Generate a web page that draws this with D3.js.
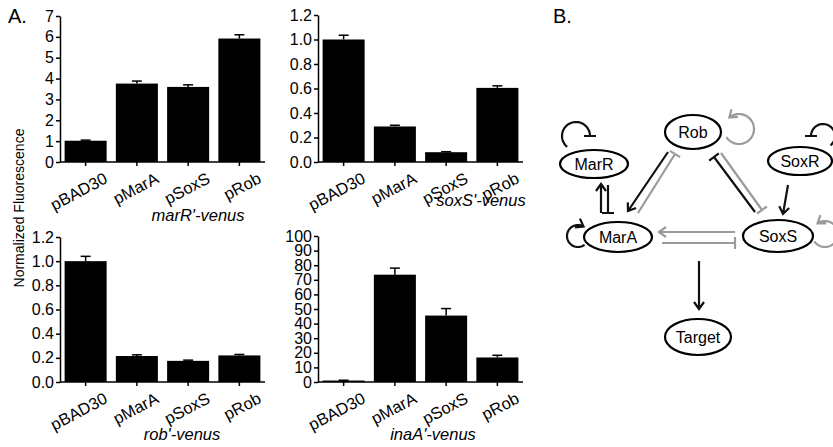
<!DOCTYPE html>
<html>
<head>
<meta charset="utf-8">
<script src="https://cdn.jsdelivr.net/npm/d3@7"></script>
<style>
  body { margin: 0; background: #fff; }
  #wrap { position: relative; width: 833px; height: 447px; }
  svg { display: block; font-family: "Liberation Sans", Arial, sans-serif; }
  .axis path, .axis line { stroke: #000; stroke-width: 1.5; }
  .axis text { font-size: 16px; fill: #000; }
</style>
</head>
<body>
<div id="wrap"><svg id="fig" width="833" height="447"></svg></div>
<script>
// Chart data
const categories = ["pBAD30", "pMarA", "pSoxS", "pRob"];

const marRValues = [1.02, 3.76, 3.6, 5.92];
const marRErrors = [0.03, 0.12, 0.1, 0.18];
const soxSValues = [1.0, 0.29, 0.08, 0.605];
const soxSErrors = [0.035, 0.01, 0.004, 0.017];
const robValues = [1.0, 0.215, 0.175, 0.22];
const robErrors = [0.04, 0.01, 0.006, 0.008];
const inaAValues = [1.0, 73.5, 45.5, 16.8];
const inaAErrors = [0.2, 4.5, 4.8, 1.5];

const marRTicks = [0, 1, 2, 3, 4, 5, 6, 7];
const fracTicks = [0, 0.2, 0.4, 0.6, 0.8, 1.0, 1.2];
const inaATicks = [0, 10, 20, 30, 40, 50, 60, 70, 80, 90, 100];

// Network diagram
const nodes = [
  { id: "Rob", cx: 693, cy: 132, rx: 28, ry: 17 },
  { id: "MarR", cx: 594, cy: 164, rx: 34, ry: 14 },
  { id: "SoxR", cx: 800, cy: 161, rx: 32, ry: 14 },
  { id: "MarA", cx: 618, cy: 237, rx: 34, ry: 15 },
  { id: "SoxS", cx: 778, cy: 236, rx: 35, ry: 16 },
  { id: "Target", cx: 698, cy: 337, rx: 33, ry: 18 }
];
const edges = [
  { x1: 668, y1: 152, x2: 628, y2: 211, color: "black", head: "arrow" },
  { x1: 638, y1: 213, x2: 675, y2: 154, color: "gray", head: "tee" },
  { x1: 755, y1: 212, x2: 714, y2: 157, color: "black", head: "tee" },
  { x1: 721, y1: 153, x2: 762, y2: 210, color: "gray", head: "tee" },
  { x1: 788, y1: 185, x2: 783, y2: 214, color: "black", head: "arrow" },
  { x1: 601, y1: 213, x2: 601, y2: 184, color: "black", head: "arrow" },
  { x1: 608, y1: 185, x2: 608, y2: 213, color: "black", head: "tee" },
  { x1: 735, y1: 232, x2: 659, y2: 232, color: "gray", head: "arrow" },
  { x1: 662, y1: 243, x2: 735, y2: 243, color: "gray", head: "tee" },
  { x1: 699, y1: 261, x2: 699, y2: 309, color: "black", head: "arrow" }
];
// self loops: circle centre, radius, start/end angle in degrees (screen coords)
const loops = [
  { cx: 576, cy: 136, r: 14, a0: 129, a1: 360, color: "black", head: "tee" },
  { cx: 823, cy: 136, r: 12, a0: 51, a1: -180, color: "black", head: "tee" },
  { cx: 578, cy: 236, r: 11, a0: 53, a1: 300, color: "black", head: "arrow" },
  { cx: 739, cy: 129, r: 15, a0: 147, a1: -130, color: "gray", head: "arrow" },
  { cx: 825, cy: 234, r: 13, a0: 145, a1: -125, color: "gray", head: "arrow" }
];

const colors = { black: "#111", gray: "#9b9b9b" };

const svg = d3.select("#fig");
const defs = svg.append("defs");

// text laid along a straight guide path (no transform on the text itself)
function pathText(parent, id, x1, y1, x2, y2, str, size, anchor) {
  defs.append("path").attr("id", id).attr("d", `M${x1},${y1}L${x2},${y2}`);
  parent.append("text")
    .attr("font-size", size)
    .append("textPath")
    .attr("href", "#" + id)
    .attr("startOffset", anchor === "end" ? "100%" : "50%")
    .attr("text-anchor", anchor)
    .text(str);
}

// Panels
const panels = [
  { values: marRValues, errors: marRErrors, max: 7, ticks: marRTicks, fmt: d3.format("d"),
    left: 60, top: 16, bottom: 162, title: "marR'-venus", tx: 198, ty: 221 },
  { values: soxSValues, errors: soxSErrors, max: 1.2, ticks: fracTicks, fmt: d3.format(".1f"),
    left: 318, top: 15, bottom: 162, title: "soxS'-venus", tx: 481, ty: 206 },
  { values: robValues, errors: robErrors, max: 1.2, ticks: fracTicks, fmt: d3.format(".1f"),
    left: 60, top: 237, bottom: 382, title: "rob'-venus", tx: 182, ty: 440 },
  { values: inaAValues, errors: inaAErrors, max: 100, ticks: inaATicks, fmt: d3.format("d"),
    left: 318, top: 236, bottom: 382, title: "inaA'-venus", tx: 433, ty: 440 }
];

const labelAngle = -28 * Math.PI / 180;

panels.forEach((p, pi) => {
  const x = d3.scaleBand()
    .domain(categories)
    .range([p.left, p.left + 205])
    .paddingInner(0.18)
    .paddingOuter(0.09);
  const y = d3.scaleLinear().domain([0, p.max]).range([p.bottom, p.top]);
  const mid = c => x(c) + x.bandwidth() / 2;

  const g = svg.append("g");

  g.selectAll(".bar")
    .data(p.values)
    .enter().append("rect")
    .attr("x", (d, i) => x(categories[i]))
    .attr("y", d => y(d))
    .attr("width", x.bandwidth())
    .attr("height", d => p.bottom - y(d))
    .attr("fill", "#000");

  // error bars (upper half only)
  const err = g.selectAll(".err")
    .data(p.values)
    .enter().append("g")
    .attr("stroke", "#000")
    .attr("stroke-width", 1.5);
  err.append("line")
    .attr("x1", (d, i) => mid(categories[i]))
    .attr("x2", (d, i) => mid(categories[i]))
    .attr("y1", d => y(d))
    .attr("y2", (d, i) => y(d + p.errors[i]));
  err.append("line")
    .attr("x1", (d, i) => mid(categories[i]) - 5)
    .attr("x2", (d, i) => mid(categories[i]) + 5)
    .attr("y1", (d, i) => y(d + p.errors[i]))
    .attr("y2", (d, i) => y(d + p.errors[i]));

  g.append("g")
    .attr("class", "axis")
    .attr("transform", `translate(${p.left},0)`)
    .call(d3.axisLeft(y).tickValues(p.ticks).tickFormat(p.fmt).tickSize(4).tickSizeOuter(0).tickPadding(2));

  const xa = g.append("g")
    .attr("class", "axis")
    .attr("transform", `translate(0,${p.bottom})`)
    .call(d3.axisBottom(x).tickSize(4).tickSizeOuter(0).tickFormat(""));
  xa.select(".domain").attr("d", `M${p.left},0H${p.left + 205}`);

  // slanted category labels
  categories.forEach((c, i) => {
    const ex = mid(c) + 23, ey = p.bottom + 20, len = 80;
    pathText(g, `lab-${pi}-${i}`,
      ex - len * Math.cos(labelAngle), ey - len * Math.sin(labelAngle), ex, ey,
      c, 16.5, "end");
  });

  g.append("text")
    .attr("x", p.tx)
    .attr("y", p.ty)
    .attr("text-anchor", "middle")
    .attr("font-size", 16.5)
    .attr("font-style", "italic")
    .text(p.title);
});

// y title running bottom to top
pathText(svg, "ytitle", 24, 318, 24, 98, "Normalized Fluorescence", 14, "middle");

svg.append("text").attr("x", 8).attr("y", 23).attr("font-size", 20).text("A.");
svg.append("text").attr("x", 553).attr("y", 23).attr("font-size", 20).text("B.");

// heads drawn as plain paths at the end point, along direction (ux, uy)
function headPath(type, ex, ey, ux, uy) {
  const nx = -uy, ny = ux;
  if (type === "arrow") {
    return `M${ex - 7 * ux + 5 * nx},${ey - 7 * uy + 5 * ny}L${ex},${ey}` +
           `L${ex - 7 * ux - 5 * nx},${ey - 7 * uy - 5 * ny}`;
  }
  return `M${ex + 6 * nx},${ey + 6 * ny}L${ex - 6 * nx},${ey - 6 * ny}`;
}

const net = svg.append("g")
  .attr("fill", "none")
  .attr("stroke-width", 2.2);

edges.forEach(e => {
  const len = Math.hypot(e.x2 - e.x1, e.y2 - e.y1);
  const ux = (e.x2 - e.x1) / len, uy = (e.y2 - e.y1) / len;
  net.append("path")
    .attr("d", `M${e.x1},${e.y1}L${e.x2},${e.y2}` + headPath(e.head, e.x2, e.y2, ux, uy))
    .attr("stroke", colors[e.color]);
});

loops.forEach(l => {
  const dir = l.a1 > l.a0 ? 1 : -1;
  const pts = d3.range(l.a0, l.a1 + dir * 0.5, dir * 5).map(a => {
    const r = a * Math.PI / 180;
    return [l.cx + l.r * Math.cos(r), l.cy + l.r * Math.sin(r)];
  });
  const e = l.a1 * Math.PI / 180;
  const ex = l.cx + l.r * Math.cos(e), ey = l.cy + l.r * Math.sin(e);
  const ux = -Math.sin(e) * dir, uy = Math.cos(e) * dir;
  net.append("path")
    .attr("d", d3.line()(pts) + headPath(l.head, ex, ey, ux, uy))
    .attr("stroke", colors[l.color]);
});

const node = svg.append("g").selectAll(".node")
  .data(nodes)
  .enter().append("g");
node.append("ellipse")
  .attr("cx", d => d.cx).attr("cy", d => d.cy)
  .attr("rx", d => d.rx).attr("ry", d => d.ry)
  .attr("fill", "#fff").attr("stroke", "#000").attr("stroke-width", 2.2);
node.append("text")
  .attr("x", d => d.cx).attr("y", d => d.cy + 6)
  .attr("text-anchor", "middle")
  .attr("font-size", 16)
  .text(d => d.id);
</script>
</body>
</html>
